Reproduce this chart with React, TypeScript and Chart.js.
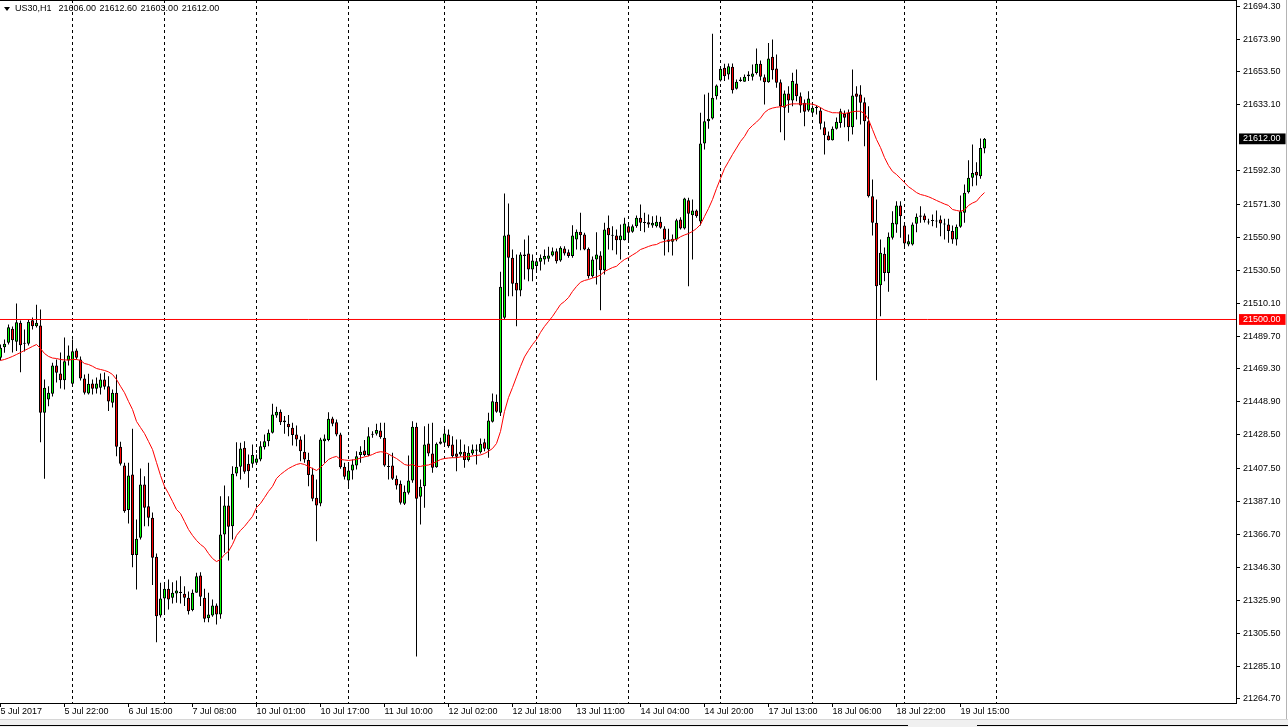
import React, { useEffect, useRef } from 'react';
import { Chart, registerables } from 'chart.js';

Chart.register(...registerables);

// ---- Data (US30, H1) ----
const OPEN = [
  21476.3, 21482.8, 21485.6, 21494.2, 21486.2, 21497.9, 21485.6, 21484.9, 21499.6, 21495.8,
  21496.3, 21442.2, 21450.4, 21453.9, 21471.5, 21466.5, 21462.4, 21474.6, 21460.1, 21480.8,
  21475.2, 21463.4, 21454.1, 21460.3, 21457.0, 21457.7, 21462.8, 21458.6, 21448.4, 21454.6,
  21421.1, 21409.5, 21381.8, 21403.9, 21353.9, 21364.7, 21397.7, 21384.2, 21377.0, 21352.9,
  21316.5, 21327.0, 21333.0, 21327.5, 21330.1, 21331.2, 21329.9, 21327.5, 21319.8, 21330.6,
  21341.3, 21327.5, 21314.8, 21316.5, 21322.7, 21317.1, 21366.7, 21384.7, 21371.8, 21404.5,
  21408.7, 21420.5, 21410.5, 21410.5, 21411.2, 21413.2, 21420.8, 21424.5, 21429.8, 21440.5,
  21442.8, 21437.4, 21435.3, 21432.9, 21428.7, 21425.6, 21418.0, 21412.8, 21403.9, 21389.4,
  21385.9, 21424.5, 21425.2, 21438.6, 21436.3, 21428.7, 21408.7, 21400.2, 21406.4, 21409.5,
  21415.9, 21418.8, 21415.9, 21428.9, 21429.1, 21431.2, 21426.7, 21408.9, 21409.5, 21401.2,
  21398.1, 21385.7, 21392.6, 21400.2, 21433.5, 21390.1, 21396.6, 21423.1, 21416.9, 21408.4,
  21422.9, 21423.5, 21428.7, 21422.5, 21416.9, 21416.3, 21418.0, 21412.8, 21416.9, 21418.6,
  21417.7, 21423.9, 21419.4, 21436.6, 21449.0, 21442.2, 21501.1, 21552.7, 21538.3, 21522.8,
  21518.0, 21540.3, 21540.9, 21531.0, 21533.1, 21535.8, 21537.2, 21537.6, 21539.7, 21542.3,
  21536.6, 21544.0, 21541.7, 21539.3, 21549.6, 21554.4, 21552.7, 21543.8, 21526.8, 21537.2,
  21539.7, 21530.6, 21556.9, 21552.3, 21552.1, 21549.2, 21549.2, 21557.8, 21554.4, 21557.8,
  21563.1, 21560.2, 21560.3, 21558.3, 21557.8, 21560.6, 21556.4, 21549.6, 21548.2, 21549.6,
  21562.0, 21556.4, 21574.0, 21564.7, 21567.6, 21560.8, 21609.1, 21622.9, 21624.6, 21638.4,
  21648.2, 21656.1, 21651.9, 21656.7, 21643.0, 21647.8, 21647.4, 21650.8, 21650.5, 21652.9,
  21658.5, 21650.2, 21647.1, 21662.9, 21655.6, 21647.1, 21631.3, 21640.1, 21635.8, 21646.3,
  21638.4, 21634.4, 21629.6, 21628.2, 21631.4, 21629.6, 21619.2, 21614.1, 21611.2, 21618.2,
  21621.9, 21627.5, 21628.2, 21619.2, 21640.1, 21639.5, 21634.7, 21622.9, 21576.4, 21560.0,
  21521.3, 21540.7, 21528.9, 21550.7, 21558.9, 21570.7, 21558.3, 21546.5, 21546.5, 21559.3,
  21563.7, 21564.5, 21560.5, 21561.0, 21561.1, 21562.0, 21559.3, 21558.9, 21554.8, 21549.6,
  21557.5, 21566.2, 21578.9, 21587.9, 21591.6, 21588.8, 21606.0,
];

const HIGH = [
  21484.5, 21487.6, 21496.9, 21495.7, 21509.9, 21499.4, 21493.8, 21500.0, 21501.2, 21509.1,
  21506.2, 21462.8, 21458.6, 21473.2, 21475.2, 21479.5, 21488.8, 21483.9, 21487.6, 21482.0,
  21477.1, 21465.9, 21466.3, 21462.8, 21464.0, 21466.5, 21467.1, 21464.8, 21456.6, 21465.9,
  21424.2, 21411.2, 21411.2, 21432.2, 21376.0, 21407.6, 21402.8, 21411.2, 21380.3, 21354.9,
  21336.8, 21335.7, 21338.8, 21337.0, 21338.2, 21340.8, 21334.6, 21331.4, 21332.6, 21343.0,
  21343.3, 21333.0, 21330.6, 21326.4, 21323.9, 21390.4, 21397.1, 21390.4, 21409.0, 21423.9,
  21423.6, 21424.5, 21416.3, 21422.5, 21416.3, 21424.5, 21428.7, 21431.8, 21447.7, 21445.9,
  21444.2, 21440.1, 21440.7, 21435.9, 21434.3, 21427.6, 21428.7, 21417.4, 21408.1, 21400.8,
  21426.7, 21428.7, 21442.5, 21439.7, 21438.0, 21429.8, 21411.2, 21410.1, 21413.2, 21418.3,
  21421.4, 21425.2, 21433.2, 21430.7, 21435.3, 21435.9, 21435.9, 21416.3, 21417.4, 21403.3,
  21400.2, 21397.1, 21415.7, 21436.9, 21435.9, 21400.8, 21433.8, 21435.3, 21435.9, 21423.7,
  21426.7, 21432.9, 21431.8, 21427.6, 21425.6, 21425.6, 21422.5, 21421.4, 21422.5, 21422.5,
  21426.2, 21426.0, 21442.2, 21454.1, 21453.5, 21529.6, 21578.1, 21571.9, 21543.4, 21540.3,
  21541.7, 21549.6, 21552.1, 21540.3, 21537.8, 21540.3, 21543.4, 21545.1, 21544.6, 21544.0,
  21545.4, 21545.4, 21543.4, 21558.5, 21555.8, 21566.2, 21553.8, 21544.6, 21539.1, 21554.1,
  21542.3, 21560.0, 21564.5, 21557.8, 21555.8, 21558.9, 21563.1, 21560.0, 21558.9, 21564.5,
  21571.3, 21566.2, 21565.1, 21564.0, 21564.5, 21563.7, 21557.8, 21556.2, 21552.7, 21562.4,
  21563.4, 21575.5, 21575.5, 21574.4, 21568.2, 21628.2, 21639.5, 21640.6, 21677.1, 21645.7,
  21656.9, 21658.5, 21658.7, 21658.7, 21648.8, 21650.2, 21651.9, 21653.9, 21658.1, 21668.0,
  21660.6, 21651.9, 21671.5, 21673.6, 21664.3, 21648.8, 21642.0, 21644.6, 21653.0, 21655.0,
  21640.7, 21636.4, 21641.5, 21632.7, 21632.9, 21631.4, 21622.8, 21616.6, 21619.7, 21625.2,
  21630.6, 21629.6, 21630.2, 21655.0, 21644.6, 21645.3, 21637.6, 21632.2, 21586.8, 21574.4,
  21549.6, 21544.6, 21553.9, 21567.1, 21573.3, 21573.3, 21560.1, 21552.7, 21560.1, 21565.7,
  21570.2, 21565.7, 21562.4, 21565.1, 21567.6, 21564.5, 21562.4, 21562.4, 21558.3, 21558.9,
  21576.9, 21583.7, 21598.8, 21608.5, 21597.5, 21612.2, 21612.6,
];

const LOW = [
  21474.6, 21479.4, 21484.5, 21479.6, 21480.4, 21467.3, 21480.2, 21483.9, 21493.8, 21495.0,
  21423.9, 21401.2, 21446.2, 21452.3, 21460.9, 21457.2, 21456.6, 21471.5, 21459.1, 21475.2,
  21462.2, 21453.5, 21453.5, 21453.5, 21454.1, 21453.5, 21456.6, 21443.2, 21445.4, 21415.2,
  21409.5, 21380.2, 21373.5, 21346.4, 21332.6, 21363.6, 21371.8, 21371.8, 21335.3, 21299.9,
  21315.2, 21318.3, 21320.2, 21323.9, 21324.4, 21323.9, 21322.3, 21317.1, 21319.1, 21330.6,
  21322.3, 21312.3, 21312.3, 21315.7, 21310.9, 21314.4, 21355.4, 21350.6, 21363.6, 21402.8,
  21400.8, 21404.3, 21395.7, 21408.1, 21410.1, 21412.1, 21419.4, 21421.4, 21429.3, 21439.1,
  21434.5, 21429.1, 21427.6, 21421.9, 21421.4, 21412.1, 21411.2, 21396.6, 21387.3, 21362.5,
  21384.2, 21411.2, 21424.5, 21433.8, 21427.6, 21407.4, 21400.8, 21395.7, 21400.8, 21407.0,
  21411.2, 21415.2, 21415.2, 21426.7, 21428.1, 21426.0, 21408.7, 21400.8, 21400.4, 21394.6,
  21385.3, 21384.9, 21391.5, 21398.8, 21291.1, 21372.9, 21383.3, 21415.2, 21405.0, 21408.1,
  21422.5, 21422.5, 21420.5, 21414.3, 21405.9, 21415.1, 21408.1, 21412.0, 21415.9, 21410.1,
  21416.9, 21418.3, 21414.3, 21436.1, 21442.2, 21440.1, 21500.0, 21514.4, 21514.4, 21495.8,
  21514.4, 21524.8, 21523.7, 21523.7, 21529.1, 21530.4, 21534.1, 21535.8, 21539.1, 21534.7,
  21535.8, 21539.7, 21538.3, 21538.3, 21543.4, 21543.0, 21543.0, 21525.4, 21525.9, 21521.7,
  21505.8, 21527.9, 21543.4, 21543.0, 21540.3, 21537.2, 21549.0, 21548.2, 21553.8, 21556.9,
  21554.8, 21554.1, 21556.9, 21556.9, 21557.0, 21556.2, 21539.7, 21541.7, 21539.7, 21548.5,
  21555.8, 21555.8, 21520.6, 21537.2, 21563.1, 21558.3, 21605.4, 21618.2, 21624.0, 21636.4,
  21647.6, 21647.8, 21648.8, 21640.1, 21642.6, 21647.4, 21647.4, 21647.8, 21648.2, 21651.9,
  21648.2, 21633.3, 21646.8, 21648.8, 21643.7, 21616.1, 21611.2, 21628.2, 21632.2, 21635.3,
  21628.2, 21619.8, 21628.8, 21626.5, 21627.1, 21617.8, 21602.3, 21611.0, 21611.0, 21617.8,
  21618.9, 21619.2, 21610.5, 21614.7, 21624.0, 21620.9, 21607.4, 21575.6, 21552.1, 21462.4,
  21502.0, 21523.7, 21517.2, 21549.6, 21553.8, 21550.7, 21543.8, 21545.4, 21545.9, 21554.1,
  21560.0, 21560.1, 21558.9, 21557.8, 21556.9, 21551.6, 21549.6, 21547.6, 21546.9, 21545.9,
  21556.9, 21560.0, 21578.1, 21582.6, 21583.1, 21587.2, 21603.0,
];

const CLOSE = [
  21482.5, 21484.9, 21495.2, 21487.2, 21498.3, 21484.1, 21485.0, 21498.6, 21495.8, 21497.9,
  21442.2, 21457.7, 21454.5, 21471.5, 21466.9, 21462.4, 21474.1, 21477.7, 21480.3, 21476.3,
  21463.4, 21454.6, 21460.1, 21457.0, 21460.3, 21462.8, 21458.3, 21449.2, 21454.6, 21421.1,
  21410.5, 21381.1, 21403.3, 21353.9, 21364.0, 21397.7, 21383.3, 21377.0, 21352.3, 21316.0,
  21327.0, 21333.0, 21326.4, 21330.6, 21332.0, 21330.4, 21327.5, 21319.1, 21330.6, 21340.8,
  21328.1, 21314.4, 21317.1, 21322.7, 21317.1, 21366.7, 21384.7, 21371.5, 21404.3, 21408.7,
  21420.0, 21405.6, 21405.9, 21415.9, 21413.8, 21421.4, 21424.5, 21429.8, 21441.1, 21442.8,
  21436.3, 21436.3, 21433.2, 21428.3, 21425.6, 21418.3, 21413.2, 21403.5, 21388.8, 21384.7,
  21425.6, 21426.2, 21438.4, 21435.3, 21428.7, 21408.4, 21402.5, 21406.4, 21410.1, 21415.2,
  21418.0, 21415.9, 21427.6, 21428.5, 21431.4, 21427.0, 21409.5, 21408.5, 21401.2, 21397.1,
  21386.4, 21393.2, 21400.2, 21433.5, 21388.8, 21396.3, 21422.5, 21416.9, 21408.1, 21422.9,
  21424.4, 21429.3, 21421.4, 21415.2, 21414.9, 21418.0, 21412.8, 21417.4, 21419.4, 21419.4,
  21422.9, 21419.8, 21437.4, 21449.3, 21442.8, 21520.3, 21552.1, 21538.3, 21522.1, 21518.0,
  21540.3, 21539.3, 21531.0, 21536.6, 21536.1, 21538.3, 21539.3, 21539.7, 21542.3, 21536.1,
  21544.5, 21540.9, 21539.3, 21552.1, 21554.4, 21552.3, 21543.4, 21526.8, 21537.2, 21540.3,
  21530.6, 21555.8, 21552.3, 21551.9, 21549.2, 21552.1, 21559.5, 21553.8, 21557.8, 21563.1,
  21560.0, 21559.8, 21558.9, 21560.0, 21560.6, 21556.9, 21549.6, 21548.2, 21550.0, 21561.6,
  21556.4, 21575.0, 21565.5, 21567.6, 21564.0, 21609.1, 21622.9, 21624.4, 21637.5, 21645.1,
  21655.4, 21650.8, 21657.0, 21642.2, 21647.4, 21648.8, 21650.5, 21651.9, 21652.5, 21658.5,
  21650.5, 21647.1, 21661.8, 21654.6, 21646.8, 21632.2, 21640.1, 21635.8, 21647.8, 21638.4,
  21632.7, 21628.8, 21637.0, 21631.3, 21631.1, 21621.3, 21614.3, 21611.2, 21618.2, 21622.6,
  21629.1, 21625.1, 21619.2, 21638.9, 21638.1, 21634.4, 21622.9, 21576.4, 21560.0, 21520.6,
  21541.4, 21528.9, 21551.3, 21560.0, 21570.7, 21564.0, 21547.1, 21548.5, 21558.9, 21563.7,
  21564.5, 21561.6, 21560.1, 21561.4, 21560.8, 21559.5, 21558.9, 21554.8, 21549.6, 21557.5,
  21567.1, 21578.6, 21587.9, 21590.9, 21589.3, 21606.4, 21612.0,
];

// Moving average line
const MA = [
  21474.6, 21475.2, 21476.1, 21477.1, 21478.3, 21479.5, 21480.8, 21482.0, 21483.3, 21484.5,
  21482.0, 21478.9, 21477.1, 21476.1, 21475.8, 21475.2, 21474.9, 21474.9, 21475.2, 21475.2,
  21474.6, 21472.7, 21472.1, 21471.0, 21469.6, 21469.0, 21468.4, 21467.5, 21465.9, 21462.8,
  21458.6, 21454.6, 21449.2, 21444.2, 21436.8, 21433.0, 21429.3, 21424.4, 21419.4, 21411.3,
  21403.3, 21396.5, 21392.1, 21387.2, 21382.2, 21379.7, 21374.8, 21369.8, 21366.1, 21363.0,
  21360.5, 21358.6, 21354.9, 21351.8, 21349.9, 21351.2, 21354.3, 21356.2, 21360.5, 21366.1,
  21369.2, 21371.7, 21374.8, 21377.9, 21383.4, 21385.9, 21389.6, 21393.4, 21396.5, 21401.4,
  21403.9, 21405.8, 21407.6, 21408.9, 21410.1, 21410.7, 21410.1, 21408.9, 21407.6, 21406.4,
  21408.2, 21410.7, 21413.2, 21414.4, 21415.1, 21413.2, 21412.9, 21412.6, 21412.9, 21413.2,
  21414.1, 21414.8, 21415.4, 21416.3, 21417.5, 21418.0, 21417.7, 21416.6, 21415.1, 21413.8,
  21412.0, 21410.1, 21409.5, 21410.1, 21408.9, 21408.9, 21409.5, 21409.8, 21410.7, 21411.8,
  21413.2, 21413.8, 21414.1, 21414.3, 21414.3, 21414.8, 21414.9, 21414.9, 21415.4, 21415.7,
  21416.0, 21416.9, 21418.3, 21420.0, 21423.1, 21430.6, 21443.0, 21451.6, 21457.8, 21464.4,
  21470.9, 21476.8, 21480.8, 21484.5, 21487.6, 21492.0, 21495.7, 21498.8, 21501.9, 21505.6,
  21509.3, 21511.2, 21513.6, 21517.4, 21520.5, 21523.1, 21524.2, 21524.8, 21525.7, 21526.4,
  21527.6, 21529.8, 21531.0, 21532.2, 21533.0, 21535.3, 21537.2, 21538.4, 21540.0, 21541.5,
  21543.4, 21544.3, 21545.3, 21546.1, 21546.5, 21547.8, 21548.4, 21549.0, 21549.3, 21549.6,
  21551.3, 21552.4, 21553.3, 21554.6, 21556.4, 21558.9, 21563.9, 21568.8, 21574.4, 21581.2,
  21587.4, 21593.6, 21597.9, 21602.3, 21606.3, 21610.4, 21613.5, 21617.8, 21620.3, 21622.4,
  21624.9, 21628.3, 21630.2, 21631.1, 21631.6, 21631.9, 21632.2, 21633.3, 21633.7, 21633.7,
  21633.7, 21633.7, 21633.7, 21633.5, 21632.7, 21631.4, 21629.9, 21629.0, 21628.2, 21628.2,
  21628.0, 21627.7, 21628.2, 21628.8, 21629.1, 21629.1, 21627.7, 21624.0, 21617.8, 21611.6,
  21606.6, 21600.4, 21595.5, 21591.8, 21589.9, 21587.4, 21584.9, 21582.3, 21580.6, 21578.7,
  21577.5, 21576.9, 21576.1, 21575.0, 21573.8, 21572.7, 21571.6, 21570.7, 21568.2, 21567.6,
  21567.1, 21567.9, 21570.7, 21572.2, 21573.3, 21576.3, 21578.7,
];

const TIME_LABEL_BARS = [0, 16, 32, 48, 64, 80, 96, 112, 128, 144, 160, 176, 192, 208, 224, 240];
const TIME_LABELS = [
  '5 Jul 2017', '5 Jul 22:00', '6 Jul 15:00', '7 Jul 08:00', '10 Jul 01:00', '10 Jul 17:00',
  '11 Jul 10:00', '12 Jul 02:00', '12 Jul 18:00', '13 Jul 11:00', '14 Jul 04:00', '14 Jul 20:00',
  '17 Jul 13:00', '18 Jul 06:00', '18 Jul 22:00', '19 Jul 15:00',
];
const DAY_SEPARATOR_BARS = [18, 41, 64, 87, 111, 134, 157, 180, 203, 226, 249];

const PRICE_TICKS = [
  21694.3, 21673.9, 21653.5, 21633.1, 21592.3, 21571.3, 21550.9, 21530.5, 21510.1, 21489.7,
  21469.3, 21448.9, 21428.5, 21407.5, 21387.1, 21366.7, 21346.3, 21325.9, 21305.5, 21285.1, 21264.7,
];
const LAST_PRICE = 21612.0;
const LEVEL_PRICE = 21500.0;
const HEADER_TEXT = 'US30,H1  21606.00 21612.60 21603.00 21612.00';

const Y_MIN = 21262.2;
const Y_MAX = 21698.1;
const X_MIN = -0.125;
const X_MAX = 308.875;

const FONT_FAMILY = "'Liberation Sans', Arial, sans-serif";

const near = (a: number, b: number) => Math.abs(a - b) < 1e-6;
const isSpecial = (v: number) => near(v, LAST_PRICE) || near(v, LEVEL_PRICE);

export default function App() {
  const ref = useRef<HTMLCanvasElement | null>(null);

  useEffect(() => {
    if (!ref.current) return;
    const chart = new Chart(ref.current, {
      type: 'bar',
      data: {
        datasets: [
          {
            type: 'line',
            label: 'level',
            data: [
              { x: X_MIN - 2, y: LEVEL_PRICE },
              { x: X_MAX + 2, y: LEVEL_PRICE },
            ],
            borderColor: '#ff0000',
            borderWidth: 1,
            pointRadius: 0,
            order: 0,
          } as any,
          {
            type: 'line',
            label: 'MA',
            data: MA.map((v, i) => ({ x: i, y: v })),
            borderColor: '#ff0000',
            borderWidth: 1,
            pointRadius: 0,
            tension: 0,
            order: 1,
          } as any,
          {
            type: 'bar',
            label: 'body',
            data: OPEN.map((o, i) => ({ x: i, y: [o, CLOSE[i]] })),
            backgroundColor: OPEN.map((o, i) => (CLOSE[i] >= o ? '#00ff00' : '#ff0000')),
            borderColor: '#000000',
            borderWidth: 1,
            borderSkipped: false,
            barThickness: 3,
            grouped: false,
            inflateAmount: 0,
            minBarLength: 1,
            order: 2,
          } as any,
          {
            type: 'bar',
            label: 'wick',
            data: LOW.map((l, i) => ({ x: i, y: [l, HIGH[i]] })),
            backgroundColor: '#000000',
            borderWidth: 0,
            barThickness: 1,
            grouped: false,
            inflateAmount: 0,
            order: 3,
          } as any,
        ],
      },
      options: {
        responsive: false,
        maintainAspectRatio: false,
        animation: false,
        devicePixelRatio: 1,
        events: [],
        layout: { padding: 0 },
        plugins: {
          legend: { display: false },
          tooltip: { enabled: false },
          title: { display: false },
        },
        scales: {
          x: {
            type: 'linear',
            position: 'bottom',
            min: X_MIN,
            max: X_MAX,
            offset: false,
            bounds: 'data',
            grid: {
              display: true,
              drawOnChartArea: false,
              drawTicks: true,
              tickLength: 4,
              color: '#000000',
              tickColor: '#000000',
              offset: false,
            },
            border: { display: true, color: '#000000', width: 1 },
            ticks: {
              autoSkip: false,
              maxRotation: 0,
              minRotation: 0,
              align: 'start',
              padding: 0,
              color: '#000000',
              font: { family: FONT_FAMILY, size: 9, lineHeight: 1 },
              callback: (v: any) => {
                const idx = TIME_LABEL_BARS.indexOf(Number(v));
                return idx >= 0 ? TIME_LABELS[idx] : '';
              },
            },
            afterBuildTicks: (s: any) => {
              s.ticks = TIME_LABEL_BARS.map((v) => ({ value: v }));
            },
            afterFit: (s: any) => {
              s.height = 16;
              s.paddingLeft = 0;
              s.paddingRight = 0;
            },
          },
          xs: {
            type: 'linear',
            position: 'top',
            min: X_MIN,
            max: X_MAX,
            offset: false,
            bounds: 'data',
            grid: {
              display: true,
              drawOnChartArea: true,
              drawTicks: false,
              color: '#000000',
              lineWidth: 1,
              offset: false,
            },
            border: { display: false, dash: [3, 3] },
            ticks: { display: false },
            afterBuildTicks: (s: any) => {
              s.ticks = DAY_SEPARATOR_BARS.map((v) => ({ value: v }));
            },
            afterFit: (s: any) => {
              s.height = 0;
              s.paddingLeft = 0;
              s.paddingRight = 0;
            },
          },
          y: {
            type: 'linear',
            position: 'right',
            min: Y_MIN,
            max: Y_MAX,
            bounds: 'data',
            grid: {
              display: true,
              drawOnChartArea: false,
              drawTicks: true,
              tickLength: 4,
              color: '#000000',
              tickColor: (ctx: any) =>
                ctx.tick && isSpecial(ctx.tick.value) ? 'rgba(0,0,0,0)' : '#000000',
            },
            border: { display: true, color: '#000000', width: 1 },
            ticks: {
              autoSkip: false,
              padding: 3,
              font: { family: FONT_FAMILY, size: 9, lineHeight: 1.2 },
              color: (ctx: any) => (ctx.tick && isSpecial(ctx.tick.value) ? '#ffffff' : '#000000'),
              showLabelBackdrop: (ctx: any) => !!(ctx.tick && isSpecial(ctx.tick.value)),
              backdropColor: (ctx: any) =>
                ctx.tick && near(ctx.tick.value, LAST_PRICE) ? '#000000' : '#ff0000',
              backdropPadding: { left: 4, right: 5, top: 0, bottom: 0 },
              callback: (v: any) => Number(v).toFixed(2),
            },
            afterBuildTicks: (s: any) => {
              s.ticks = [...PRICE_TICKS, LAST_PRICE, LEVEL_PRICE]
                .sort((a, b) => a - b)
                .map((v) => ({ value: v }));
            },
            afterFit: (s: any) => {
              s.width = 52;
              s.paddingTop = 0;
              s.paddingBottom = 0;
            },
          },
        },
      } as any,
    });
    return () => chart.destroy();
  }, []);

  return (
    <div
      style={{
        position: 'fixed',
        left: 0,
        top: 0,
        width: 1288,
        height: 727,
        background: '#ffffff',
        overflow: 'hidden',
      }}
    >
      <canvas
        ref={ref}
        width={1288}
        height={719}
        style={{ position: 'absolute', left: 0, top: 0, display: 'block', width: 1288, height: 719 }}
      />
      {/* chart frame top line */}
      <div style={{ position: 'absolute', left: 0, top: 0, width: 1237, height: 1, background: '#000' }} />
      {/* header */}
      <div
        style={{
          position: 'absolute',
          left: 4,
          top: 7,
          width: 0,
          height: 0,
          borderLeft: '3px solid transparent',
          borderRight: '3px solid transparent',
          borderTop: '4px solid #000',
        }}
      />
      <div
        style={{
          position: 'absolute',
          left: 15,
          top: 2,
          fontFamily: FONT_FAMILY,
          fontSize: 9,
          lineHeight: '12px',
          color: '#000',
          whiteSpace: 'pre',
          wordSpacing: 1,
        }}
      >
        {HEADER_TEXT}
      </div>
      {/* right window border */}
      <div style={{ position: 'absolute', left: 1286, top: 0, width: 1, height: 720, background: '#b4b4b4' }} />
      {/* bottom tab strip */}
      <div
        style={{
          position: 'absolute',
          left: 0,
          top: 719,
          width: 1288,
          height: 8,
          background: '#f0f0f0',
          borderTop: '1px solid #d6d6d6',
          boxSizing: 'border-box',
        }}
      />
      <div style={{ position: 'absolute', left: 0, top: 725, width: 908, height: 1, background: '#000' }} />
      <div style={{ position: 'absolute', left: 977, top: 725, width: 311, height: 1, background: '#000' }} />
    </div>
  );
}
